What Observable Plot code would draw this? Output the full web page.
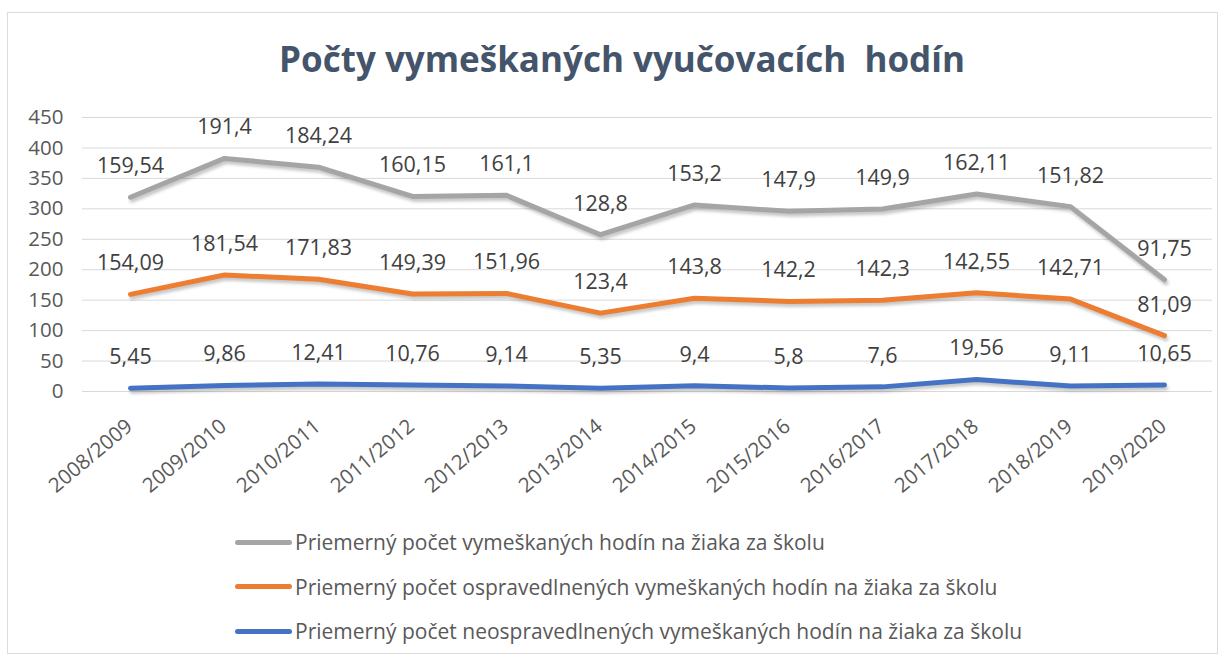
<!DOCTYPE html>
<html><head><meta charset="utf-8">
<script src="https://cdn.jsdelivr.net/npm/d3@7"></script>
<script src="https://cdn.jsdelivr.net/npm/@observablehq/plot@0.6"></script>
<style>
body{margin:0;background:#fff;font-family:"Open Sans",sans-serif;}
#frame{position:absolute;left:7px;top:12px;width:1211px;height:642px;border:1px solid #dcdcdc;box-sizing:border-box;}
#title{position:absolute;left:0;width:1244px;top:37px;line-height:44px;text-align:center;font-weight:bold;font-size:35px;color:#44546a;white-space:pre;}
#chart{position:absolute;left:0;top:95px;}
#legend{position:absolute;left:235px;top:520px;}
.item{display:flex;align-items:center;height:44.5px;font-size:21px;color:#595959;white-space:nowrap;}
.sw{width:57px;height:5px;margin-right:3px;border-radius:3px;}
</style></head><body>
<div id="frame"></div>
<div id="title">Počty vymeškaných vyučovacích  hodín</div>
<div id="chart"></div>
<div id="legend"></div>
<script>
const categories = ["2008/2009","2009/2010","2010/2011","2011/2012","2012/2013","2013/2014","2014/2015","2015/2016","2016/2017","2017/2018","2018/2019","2019/2020"];
const totalHours = [159.54,191.4,184.24,160.15,161.1,128.8,153.2,147.9,149.9,162.11,151.82,91.75];
const excusedHours = [154.09,181.54,171.83,149.39,151.96,123.4,143.8,142.2,142.3,142.55,142.71,81.09];
const unexcusedHours = [5.45,9.86,12.41,10.76,9.14,5.35,9.4,5.8,7.6,19.56,9.11,10.65];
const seriesNames = [
  "Priemerný počet vymeškaných hodín na žiaka za školu",
  "Priemerný počet ospravedlnených vymeškaných hodín na žiaka za školu",
  "Priemerný počet neospravedlnených vymeškaných hodín na žiaka za školu"
];
const seriesColors = ["#a5a5a5","#ed7d31","#4472c4"];
const yTicks = [0,50,100,150,200,250,300,350,400,450];

// Excel stacked line: blue at bottom, orange on top of it, gray on top
const rows = [];
[[2, unexcusedHours],[1, excusedHours],[0, totalHours]].forEach(([i, vals]) =>
  vals.forEach((v, j) => rows.push({cat: categories[j], value: v, series: seriesNames[i]})));
const st = (o) => Plot.stackY2({x: "cat", y: "value", z: "series", ...o});
const fmt = (v) => String(v).replace(".", ",");

const chart = Plot.plot({
  width: 1227, height: 420,
  marginLeft: 82, marginRight: 15, marginTop: 22, marginBottom: 124,
  style: {fontFamily: "'Open Sans', sans-serif", background: "transparent", overflow: "visible"},
  x: {type: "point", domain: categories, padding: 0.5, label: null},
  y: {domain: [0, 450], label: null},
  color: {domain: seriesNames, range: seriesColors},
  marks: [
    Plot.gridY(yTicks, {stroke: "#d9d9d9", strokeOpacity: 1}),
    Plot.axisY(yTicks, {tickSize: 0, tickPadding: 19, fontSize: 20.5, fill: "#595959", label: null}),
    Plot.axisX({tickSize: 0, tickPadding: 32, tickRotate: -40, dx: -1, fontSize: 20.5, fill: "#595959", label: null}),
    Plot.lineY(rows, st({stroke: "#000", strokeOpacity: 0.22, strokeWidth: 5, dx: 1.5, dy: 3, strokeLinejoin: "round", strokeLinecap: "round"})),
    Plot.lineY(rows, st({stroke: "series", strokeWidth: 5, strokeLinejoin: "round", strokeLinecap: "round"})),
    Plot.text(rows, st({text: (d) => fmt(d.value), dy: -31, fontSize: 21.5, fill: "#404040"}))
  ]
});
// soft blur for the line shadow
const svg = d3.select(chart);
svg.insert("defs", ":first-child").html('<filter id="shadowBlur" x="-5%" y="-20%" width="110%" height="140%"><feGaussianBlur stdDeviation="1.8"/></filter>');
svg.selectAll('g[aria-label="line"]').filter((d, i) => i === 0).attr("filter", "url(#shadowBlur)");
document.getElementById("chart").appendChild(chart);

const legend = document.getElementById("legend");
seriesNames.forEach((name, i) => {
  const item = document.createElement("div");
  item.className = "item";
  const sw = document.createElement("span");
  sw.className = "sw";
  sw.style.background = seriesColors[i];
  item.appendChild(sw);
  item.appendChild(document.createTextNode(name));
  legend.appendChild(item);
});
</script>
</body></html>
